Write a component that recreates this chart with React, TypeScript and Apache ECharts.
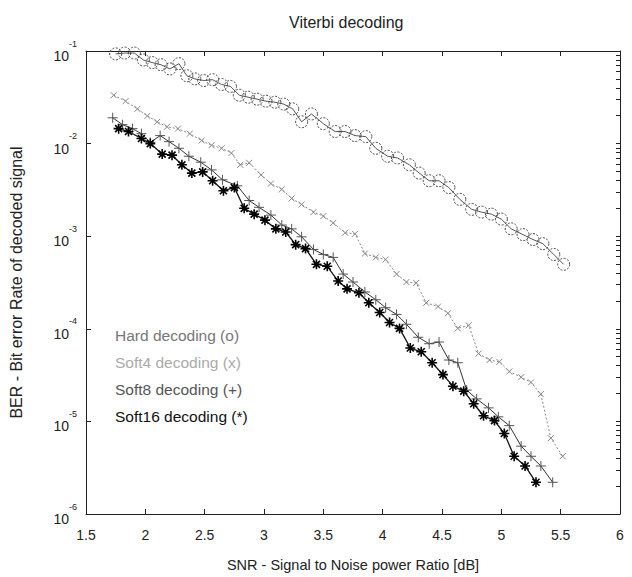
import React, { useEffect, useRef } from "react";
import * as echarts from "echarts";

// ---- Data ----
const xTickLabels = ["1.5", "2", "2.5", "3", "3.5", "4", "4.5", "5", "5.5", "6"];
const yDecades = [-6, -5, -4, -3, -2, -1];

const hardSnr = [1.75, 1.825, 1.908, 1.983, 2.058, 2.133, 2.208, 2.283, 2.35, 2.417, 2.492, 2.567, 2.642, 2.717, 2.792, 2.867, 2.942, 3.017, 3.092, 3.167, 3.242, 3.317, 3.4, 3.5, 3.6, 3.683, 3.767, 3.858, 3.942, 4.042, 4.125, 4.225, 4.308, 4.392, 4.475, 4.558, 4.65, 4.75, 4.833, 4.917, 5.0, 5.083, 5.183, 5.267, 5.35, 5.442, 5.525];
const hardBer = [9.3e-2, 9.5e-2, 9.5e-2, 8.0e-2, 7.5e-2, 7.1e-2, 6.4e-2, 7.3e-2, 5.4e-2, 5.0e-2, 4.8e-2, 4.9e-2, 4.35e-2, 4.15e-2, 3.33e-2, 3.17e-2, 3.02e-2, 2.87e-2, 2.8e-2, 2.67e-2, 2.37e-2, 1.72e-2, 2.09e-2, 1.64e-2, 1.35e-2, 1.35e-2, 1.22e-2, 1.19e-2, 8.9e-3, 7.3e-3, 7.0e-3, 5.9e-3, 4.8e-3, 3.97e-3, 3.97e-3, 3.35e-3, 2.5e-3, 1.95e-3, 1.82e-3, 1.73e-3, 1.53e-3, 1.2e-3, 1.04e-3, 9.2e-4, 8.3e-4, 6.35e-4, 4.97e-4];

const soft4Snr = [1.733, 1.833, 1.933, 2.017, 2.1, 2.183, 2.275, 2.375, 2.475, 2.558, 2.642, 2.725, 2.8, 2.875, 2.975, 3.058, 3.15, 3.233, 3.317, 3.417, 3.5, 3.583, 3.683, 3.767, 3.85, 3.942, 4.025, 4.117, 4.2, 4.283, 4.367, 4.467, 4.55, 4.633, 4.725, 4.808, 4.9, 4.983, 5.067, 5.167, 5.25, 5.333, 5.417, 5.517];
const soft4Ber = [3.33e-2, 2.87e-2, 2.37e-2, 1.99e-2, 1.72e-2, 1.52e-2, 1.45e-2, 1.28e-2, 1.08e-2, 9.6e-3, 8.9e-3, 7.9e-3, 5.9e-3, 6.2e-3, 4.6e-3, 3.7e-3, 3.2e-3, 2.56e-3, 2.2e-3, 1.82e-3, 1.65e-3, 1.39e-3, 1.09e-3, 1.06e-3, 6.5e-4, 5.9e-4, 5.6e-4, 3.9e-4, 3.2e-4, 3.13e-4, 1.91e-4, 1.74e-4, 1.47e-4, 1.01e-4, 1.09e-4, 5.4e-5, 4.6e-5, 4.4e-5, 3.46e-5, 3.0e-5, 2.64e-5, 1.97e-5, 6.6e-6, 4.2e-6];

const soft8Snr = [1.725, 1.808, 1.892, 1.967, 2.042, 2.125, 2.2, 2.283, 2.367, 2.467, 2.558, 2.65, 2.775, 2.875, 2.958, 3.058, 3.15, 3.233, 3.317, 3.417, 3.5, 3.583, 3.667, 3.75, 3.85, 3.942, 4.025, 4.117, 4.2, 4.3, 4.392, 4.475, 4.558, 4.633, 4.708, 4.792, 4.892, 4.975, 5.067, 5.167, 5.25, 5.333, 5.433];
const soft8Ber = [1.9e-2, 1.6e-2, 1.45e-2, 1.28e-2, 1.03e-2, 1.22e-2, 1.05e-2, 8.9e-3, 7.3e-3, 6.3e-3, 5.2e-3, 4.07e-3, 3.5e-3, 2.43e-3, 2.05e-3, 1.69e-3, 1.32e-3, 1.2e-3, 9.85e-4, 7.2e-4, 6.35e-4, 5.9e-4, 3.9e-4, 3.2e-4, 2.5e-4, 2.06e-4, 1.69e-4, 1.43e-4, 1.12e-4, 8.1e-5, 6.9e-5, 7.2e-5, 4.6e-5, 4.3e-5, 2.18e-5, 1.75e-5, 1.4e-5, 1.12e-5, 9.0e-6, 5.4e-6, 4.2e-6, 3.3e-6, 2.2e-6];

const soft16Snr = [1.775, 1.858, 1.967, 2.042, 2.142, 2.225, 2.308, 2.392, 2.483, 2.567, 2.658, 2.75, 2.833, 2.917, 3.008, 3.1, 3.183, 3.267, 3.35, 3.442, 3.533, 3.625, 3.7, 3.8, 3.883, 3.975, 4.058, 4.142, 4.233, 4.325, 4.417, 4.508, 4.592, 4.683, 4.767, 4.85, 4.942, 5.025, 5.108, 5.2, 5.292];
const soft16Ber = [1.45e-2, 1.35e-2, 1.135e-2, 1.0e-2, 7.7e-3, 7.5e-3, 5.9e-3, 4.8e-3, 4.95e-3, 3.97e-3, 3.1e-3, 3.35e-3, 2.0e-3, 1.73e-3, 1.49e-3, 1.2e-3, 1.11e-3, 8.1e-4, 7.35e-4, 4.97e-4, 4.73e-4, 3.28e-4, 2.7e-4, 2.45e-4, 1.91e-4, 1.5e-4, 1.17e-4, 1.01e-4, 6.2e-5, 5.65e-5, 4.3e-5, 3.2e-5, 2.4e-5, 2.12e-5, 1.55e-5, 1.15e-5, 1.02e-5, 7.4e-6, 4.2e-6, 3.3e-6, 2.2e-6];

const legendLabels = ["Hard decoding (o)", "Soft4 decoding (x)", "Soft8 decoding (+)", "Soft16 decoding (*)"];
const legendColors = ["#777", "#aaa", "#555", "#111"];

const FONT = "'Liberation Sans', Arial, sans-serif";

const pairs = (xs: number[], ys: number[]) => xs.map((x, i) => [x, ys[i]]);

// minor tick positions (log10 space) for the right-hand frame
const minorTicks: number[] = [];
for (let d = yDecades[0]; d < yDecades[yDecades.length - 1]; d++) {
  for (let k = 1; k <= 9; k++) minorTicks.push(d + Math.log10(k));
}
minorTicks.push(yDecades[yDecades.length - 1]);

export default function App() {
  const ref = useRef<HTMLDivElement>(null);
  useEffect(() => {
    if (!ref.current) return;
    const chart = echarts.init(ref.current, undefined, { renderer: "svg" });
    const axisLine = { show: true, lineStyle: { color: "#222", width: 1 } };
    chart.setOption({
      animation: false,
      backgroundColor: "#fff",
      textStyle: { fontFamily: FONT },
      title: {
        text: "Viterbi decoding",
        left: 284,
        top: 9,
        textStyle: { fontFamily: FONT, fontSize: 16, fontWeight: "normal", color: "#222" },
      },
      grid: { left: 80, right: 12, top: 51, bottom: 55 },
      xAxis: [
        {
          type: "value",
          min: 1.5,
          max: 6,
          interval: 0.5,
          position: "bottom",
          name: "SNR - Signal to Noise power Ratio [dB]",
          nameLocation: "middle",
          nameGap: 43,
          nameTextStyle: { fontFamily: FONT, fontSize: 14.5, color: "#222" },
          axisLine,
          axisTick: { show: true, inside: true, length: 5, lineStyle: { color: "#222" } },
          axisLabel: {
            fontFamily: FONT,
            fontSize: 14,
            color: "#222",
            margin: 14,
            formatter: (v: number) => {
              const idx = Math.round((v - 1.5) / 0.5);
              return xTickLabels[idx] ?? "";
            },
          },
          splitLine: { show: false },
        },
        {
          type: "value",
          min: 1.5,
          max: 6,
          interval: 0.5,
          position: "top",
          axisLine,
          axisTick: { show: true, inside: true, length: 5, lineStyle: { color: "#222" } },
          axisLabel: { show: false },
          splitLine: { show: false },
        },
      ],
      yAxis: [
        {
          type: "log",
          logBase: 10,
          min: 1e-6,
          max: 1e-1,
          position: "left",
          name: "BER - Bit error Rate of decoded signal",
          nameLocation: "middle",
          nameGap: 62,
          nameTextStyle: { fontFamily: FONT, fontSize: 16, color: "#222" },
          axisLine,
          axisTick: { show: true, inside: true, length: 5, lineStyle: { color: "#222" } },
          axisLabel: {
            margin: 9,
            formatter: (v: number) => `{b|10}{s|${Math.round(Math.log10(v))}}`,
            rich: {
              b: { fontFamily: FONT, fontSize: 14, color: "#222", lineHeight: 24, verticalAlign: "bottom" },
              s: { fontFamily: FONT, fontSize: 9, color: "#222", lineHeight: 24, verticalAlign: "top" },
            },
          },
          splitLine: { show: false },
          minorSplitLine: { show: false },
        },
        {
          type: "value",
          min: yDecades[0],
          max: yDecades[yDecades.length - 1],
          position: "right",
          axisLine,
          axisTick: { show: true, inside: true, length: 4, customValues: minorTicks, lineStyle: { color: "#222" } },
          axisLabel: { show: false },
          splitLine: { show: false },
        },
      ],
      graphic: legendLabels.map((t, i) => ({
        type: "text",
        left: 115,
        top: 327 + i * 27,
        style: { text: t, fill: legendColors[i], font: `15.5px ${FONT}` },
      })),
      series: [
        {
          name: legendLabels[0],
          type: "line",
          data: pairs(hardSnr, hardBer),
          symbol: "circle",
          symbolSize: 12,
          lineStyle: { color: "#555", width: 1 },
          itemStyle: { color: "transparent", borderColor: "#444", borderWidth: 1, borderType: [2, 1.5] },
        },
        {
          name: legendLabels[1],
          type: "line",
          data: pairs(soft4Snr, soft4Ber),
          symbol: "path://M0,0L10,10M10,0L0,10",
          symbolSize: 6,
          lineStyle: { color: "#888", width: 1, type: [2, 2] },
          itemStyle: { color: "transparent", borderColor: "#888", borderWidth: 1 },
        },
        {
          name: legendLabels[2],
          type: "line",
          data: pairs(soft8Snr, soft8Ber),
          symbol: "path://M0,5L10,5M5,0L5,10",
          symbolSize: 10,
          lineStyle: { color: "#333", width: 1 },
          itemStyle: { color: "transparent", borderColor: "#555", borderWidth: 1 },
        },
        {
          name: legendLabels[3],
          type: "line",
          data: pairs(soft16Snr, soft16Ber),
          symbol: "path://M0,5L10,5M5,0L5,10M1.5,1.5L8.5,8.5M8.5,1.5L1.5,8.5",
          symbolSize: 10,
          lineStyle: { color: "#111", width: 1.3 },
          itemStyle: { color: "transparent", borderColor: "#000", borderWidth: 1.6 },
        },
      ],
    });
    return () => chart.dispose();
  }, []);
  return (
    <div
      ref={ref}
      style={{ position: "fixed", left: 0, top: 0, width: 632, height: 577, background: "#fff" }}
    />
  );
}
